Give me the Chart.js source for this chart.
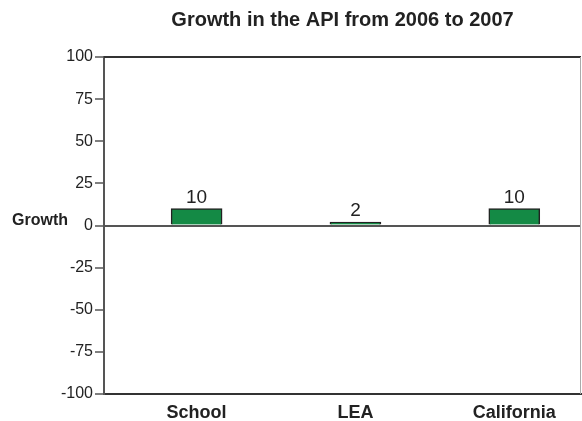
<!DOCTYPE html>
<html>
<head>
<meta charset="utf-8">
<script src="https://cdn.jsdelivr.net/npm/chart.js@4.4.0/dist/chart.umd.min.js"></script>
<style>
  html, body { margin: 0; padding: 0; background: #fff; }
  #wrap { width: 582px; height: 421px; }
</style>
</head>
<body>
<div id="wrap"><canvas id="chart"></canvas></div>
<script>
// data
const categories = ['School', 'LEA', 'California'];
const growth = [10, 2, 10];
const yTicks = [-100, -75, -50, -25, 0, 25, 50, 75, 100];
const chartTitle = 'Growth in the API from 2006 to 2007';
const yTitle = 'Growth';

const face = "'Liberation Sans', Arial, sans-serif";

// frame on top/right, 'Growth' label, and the value labels over the bars
const extras = {
  id: 'extras',
  afterDatasetsDraw(chart) {
    const {ctx, chartArea, scales} = chart;
    ctx.save();
    ctx.strokeStyle = '#333';
    ctx.lineWidth = 2;
    ctx.beginPath();
    ctx.moveTo(chartArea.left, chartArea.top);
    ctx.lineTo(chartArea.right, chartArea.top);
    ctx.stroke();
    ctx.strokeStyle = '#aaa';
    ctx.lineWidth = 1;
    ctx.beginPath();
    ctx.moveTo(chartArea.right - 0.5, chartArea.top);
    ctx.lineTo(chartArea.right - 0.5, chartArea.bottom);
    ctx.stroke();

    ctx.fillStyle = '#222';
    ctx.font = '19px ' + face;
    ctx.textAlign = 'center';
    ctx.textBaseline = 'alphabetic';
    chart.getDatasetMeta(0).data.forEach((bar, i) => {
      ctx.fillText(String(growth[i]), bar.x, bar.y - 6);
    });

    ctx.font = 'bold 16px ' + face;
    ctx.textBaseline = 'middle';
    ctx.fillText(yTitle, 40, scales.y.getPixelForValue(0) - 5);
    ctx.restore();
  }
};

new Chart(document.getElementById('chart'), {
  type: 'bar',
  data: {
    datasets: [{
      data: categories.map((c, i) => ({x: i, y: growth[i]})),
      backgroundColor: '#148a45',
      borderColor: '#222',
      borderWidth: 1.5,
      barThickness: 51
    }]
  },
  options: {
    responsive: true,
    maintainAspectRatio: false,
    animation: false,
    layout: { padding: { left: 0, right: 1, top: 0, bottom: 0 } },
    plugins: {
      legend: { display: false },
      tooltip: { enabled: false },
      title: {
        display: true,
        text: chartTitle,
        fullSize: false,
        color: '#222',
        font: { family: face, size: 20, weight: 'bold' },
        padding: { top: 8, bottom: 25 }
      }
    },
    scales: {
      x: {
        type: 'linear',
        offset: false,
        min: -0.583,
        max: 2.42,
        afterBuildTicks(scale) {
          scale.ticks = categories.map((c, i) => ({value: i}));
        },
        afterFit(scale) { scale.height = 27; },
        grid: { display: false },
        border: { display: true, color: '#333', width: 2 },
        ticks: {
          autoSkip: false,
          maxRotation: 0,
          padding: 0,
          color: '#222',
          font: { family: face, size: 18, weight: 'bold' },
          callback: (v) => categories[v] ?? ''
        }
      },
      y: {
        min: -100,
        max: 100,
        afterBuildTicks(scale) {
          scale.ticks = yTicks.map(v => ({value: v}));
        },
        afterFit(scale) { scale.width = 104; },
        grid: {
          drawOnChartArea: true,
          color: (ctx) => ctx.tick && ctx.tick.value === 0 ? '#555' : 'rgba(0,0,0,0)',
          lineWidth: 2,
          tickColor: '#555',
          tickLength: 9,
          tickWidth: 1.5
        },
        border: { display: true, color: '#555', width: 2 },
        ticks: {
          padding: 2,
          color: '#222',
          font: { family: face, size: 16 }
        }
      }
    }
  },
  plugins: [extras]
});
</script>
</body>
</html>
